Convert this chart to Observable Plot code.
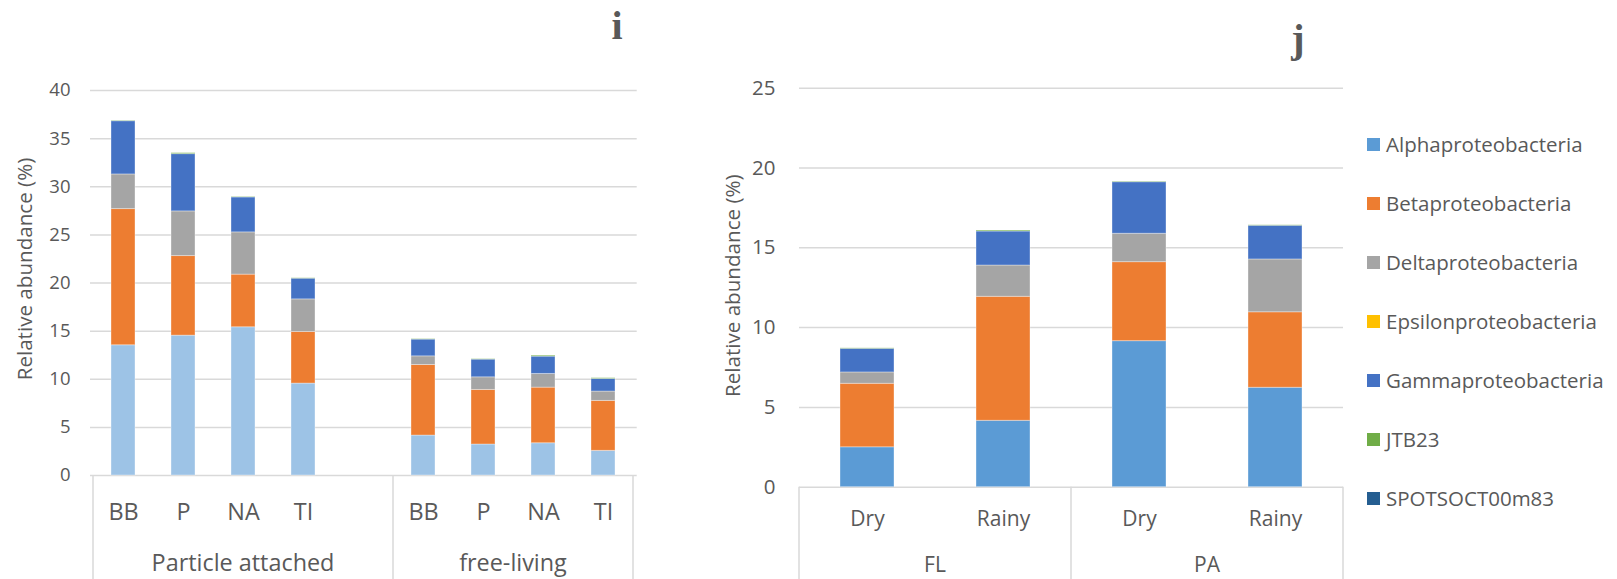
<!DOCTYPE html>
<html>
<head>
<meta charset="utf-8">
<script src="https://cdn.jsdelivr.net/npm/d3@7"></script>
<script src="https://cdn.jsdelivr.net/npm/@observablehq/plot@0.6"></script>
<style>
  body { margin: 0; background: #fff; }
  #page { position: relative; width: 1617px; height: 579px; overflow: hidden; background: #fff;
          font-family: "Open Sans", "Noto Sans", sans-serif; color: #595959; }
  .panel { position: absolute; top: 0; }
  .tag { position: absolute; font-family: "Liberation Serif", "DejaVu Serif", serif; font-weight: bold;
         font-size: 40px; line-height: 1; color: #595959; transform: translateX(-50%); }
  #legend { position: absolute; left: 1367px; top: 0; }
  .row { position: absolute; left: 0; height: 28px; display: flex; align-items: center; white-space: nowrap;
         font-size: 20.5px; color: #595959; }
  .swatch { width: 13px; height: 13px; margin-right: 6px; flex: none; }
</style>
</head>
<body>
<div id="page">
  <div class="tag" style="left:617px; top:6px;">i</div>
  <div class="tag" style="left:1298px; top:19px;">j</div>
  <div id="legend"></div>
</div>
<script>
// Taxa, in stacking order (bottom to top)
const seriesNames = ["Alphaproteobacteria", "Betaproteobacteria", "Deltaproteobacteria",
  "Epsilonproteobacteria", "Gammaproteobacteria", "JTB23", "SPOTSOCT00m83"];
const seriesColors = ["#5B9BD5", "#ED7D31", "#A5A5A5", "#FFC000", "#4472C4", "#70AD47", "#255E91"];
const siteColors = ["#9DC3E6", "#ED7D31", "#A5A5A5", "#FFC000", "#4472C4", "#70AD47", "#255E91"];

// Panel i: sites by fraction (the empty slot separates the two fractions)
const siteKeys = ["PA-BB", "PA-P", "PA-NA", "PA-TI", "PA-gap", "FL-BB", "FL-P", "FL-NA", "FL-TI"];
const siteLabels = ["BB", "P", "NA", "TI", "", "BB", "P", "NA", "TI"];
const siteGroups = ["Particle attached", "Particle attached", "Particle attached", "Particle attached",
  "Particle attached", "free-living", "free-living", "free-living", "free-living"];
const siteBars = ["PA-BB", "PA-P", "PA-NA", "PA-TI", "FL-BB", "FL-P", "FL-NA", "FL-TI"];
const siteAlpha   = [13.53, 14.53, 15.40, 9.55, 4.15, 3.22, 3.35, 2.56];
const siteBeta    = [14.15, 8.27, 5.47, 5.36, 7.33, 5.67, 5.78, 5.19];
const siteDelta   = [3.60, 4.64, 4.39, 3.39, 0.90, 1.31, 1.42, 0.97];
const siteEpsilon = [0, 0, 0, 0, 0, 0, 0, 0];
const siteGamma   = [5.53, 5.95, 3.63, 2.15, 1.74, 1.84, 1.80, 1.31];
const siteJTB23   = [0.04, 0.10, 0.04, 0.04, 0.04, 0.04, 0.10, 0.08];
const siteSPOTS   = [0, 0, 0, 0, 0, 0, 0, 0];
const siteTicks = [0, 5, 10, 15, 20, 25, 30, 35, 40];

// Panel j: season by fraction
const seasonKeys = ["FL-Dry", "FL-Rainy", "PA-Dry", "PA-Rainy"];
const seasonLabels = ["Dry", "Rainy", "Dry", "Rainy"];
const seasonGroups = ["FL", "FL", "PA", "PA"];
const seasonAlpha   = [2.50, 4.16, 9.15, 6.23];
const seasonBeta    = [3.98, 7.77, 4.95, 4.73];
const seasonDelta   = [0.71, 1.96, 1.78, 3.31];
const seasonEpsilon = [0, 0, 0, 0];
const seasonGamma   = [1.48, 2.13, 3.23, 2.11];
const seasonJTB23   = [0.03, 0.06, 0.03, 0.03];
const seasonSPOTS   = [0, 0, 0, 0];
const seasonTicks = [0, 5, 10, 15, 20, 25];

const axisTitle = "Relative abundance (%)";
const grey = "#595959", rule = "#D9D9D9";

function toRows(keys, columns) {
  return keys.flatMap((key, i) => seriesNames.map((s, j) => ({key, series: s, value: columns[j][i]})))
    .filter(d => d.value > 0);
}

// Two-level category box: group dividers below the axis and centred group names
function categoryBox(keys, groups, labelGap, fontSize) {
  return (index, scales, values, dims) => {
    const x = scales.x;
    const half = (x.step() - x.bandwidth()) / 2;
    const base = dims.height - dims.marginBottom;
    const g = d3.create("svg:g");
    const edges = new Map();
    for (const name of [...new Set(groups)]) {
      const ks = keys.filter((k, i) => groups[i] === name);
      const x0 = x(ks[0]) - half;
      const x1 = x(ks[ks.length - 1]) + x.bandwidth() + half;
      edges.set(Math.round(x0 * 10), x0);
      edges.set(Math.round(x1 * 10), x1);
      g.append("text").attr("x", (x0 + x1) / 2).attr("y", base + labelGap)
        .attr("text-anchor", "middle").attr("font-size", fontSize).attr("fill", grey).text(name);
    }
    for (const e of edges.values()) {
      g.append("line").attr("x1", e).attr("x2", e).attr("y1", base).attr("y2", dims.height)
        .attr("stroke", rule).attr("stroke-width", 1.5);
    }
    return g.node();
  };
}

function panel({keys, labels, groups, rows, colors, ticks, width, marginLeft, marginRight, marginTop, marginBottom,
                tickFont, catFont, tickPad, catPad, groupGap, titleDx, titleDy}) {
  const labelOf = new Map(keys.map((k, i) => [k, labels[i]]));
  return Plot.plot({
    width, height: 579, marginLeft, marginRight, marginTop, marginBottom,
    style: {fontFamily: "'Open Sans', 'Noto Sans', sans-serif", background: "transparent", color: grey, overflow: "visible"},
    x: {domain: keys, paddingInner: 0.6, paddingOuter: 0.3, label: null},
    y: {domain: [0, ticks[ticks.length - 1]], label: null},
    color: {domain: seriesNames, range: colors},
    marks: [
      Plot.gridY(ticks, {stroke: rule, strokeOpacity: 1, strokeWidth: 1.5}),
      Plot.axisY(ticks, {tickSize: 0, tickPadding: tickPad, fontSize: tickFont, color: grey, label: null}),
      Plot.axisX({tickSize: 0, tickPadding: catPad, fontSize: catFont, color: grey, label: null,
                  tickFormat: k => labelOf.get(k)}),
      Plot.barY(rows, {x: "key", y: "value", fill: "series", stroke: "white", strokeOpacity: 0.35, strokeWidth: 1}),
      Plot.text([axisTitle], {frameAnchor: "left", textAnchor: "middle", rotate: -90, dx: titleDx, dy: titleDy,
                              fontSize: 20.6, fill: grey}),
      categoryBox(keys, groups, groupGap, catFont)
    ]
  });
}

const page = document.getElementById("page");

const left = panel({
  keys: siteKeys, labels: siteLabels, groups: siteGroups,
  rows: toRows(siteBars, [siteAlpha, siteBeta, siteDelta, siteEpsilon, siteGamma, siteJTB23, siteSPOTS]),
  colors: siteColors, ticks: siteTicks,
  width: 650, marginLeft: 90, marginRight: 13.3, marginTop: 90, marginBottom: 104,
  tickFont: 18.5, catFont: 23.4, tickPad: 20, catPad: 27.6, groupGap: 96, titleDx: -65, titleDy: -14
});
left.classList.add("panel");
left.style.left = "0px";
page.appendChild(left);

const right = panel({
  keys: seasonKeys, labels: seasonLabels, groups: seasonGroups,
  rows: toRows(seasonKeys, [seasonAlpha, seasonBeta, seasonDelta, seasonEpsilon, seasonGamma, seasonJTB23, seasonSPOTS]),
  colors: seriesColors, ticks: seasonTicks,
  width: 676, marginLeft: 119, marginRight: 13, marginTop: 87.7, marginBottom: 92.3,
  tickFont: 20.5, catFont: 21, tickPad: 24, catPad: 23.8, groupGap: 85.6, titleDx: -66, titleDy: -2
});
right.classList.add("panel");
right.style.left = "680px";
page.appendChild(right);

// Legend for both panels
const legend = document.getElementById("legend");
seriesNames.forEach((name, i) => {
  const row = document.createElement("div");
  row.className = "row";
  row.style.top = (144 - 14 + i * 59) + "px";
  const sw = document.createElement("span");
  sw.className = "swatch";
  sw.style.background = seriesColors[i];
  row.appendChild(sw);
  row.appendChild(document.createTextNode(name));
  legend.appendChild(row);
});
</script>
</body>
</html>
